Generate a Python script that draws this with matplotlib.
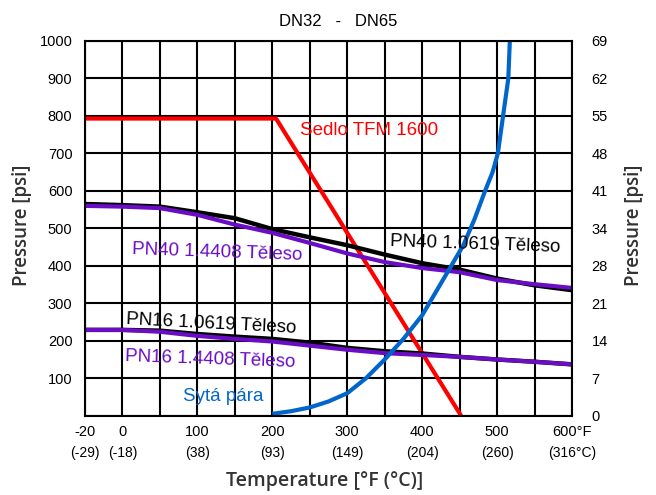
import matplotlib
matplotlib.use('Agg')
import matplotlib.pyplot as plt
import numpy as np

# temperature in deg F, pressure in psi
t_seat = [-20, 205, 452]
p_seat = [793, 793, 0]

t_body = [-20, 0, 50, 100, 150, 200, 250, 300, 350, 400, 450, 500, 550, 600]
p_pn40_cs = [565, 562, 558, 543, 527, 498, 476, 455, 430, 407, 390, 366, 348, 335]
p_pn40_ss = [560, 558, 554, 536, 510, 488, 461, 433, 410, 394, 383, 362, 351, 341]
p_pn16_cs = [229, 229, 227, 218, 211, 205, 195, 181, 172, 166, 157, 150, 144, 137]
p_pn16_ss = [229, 229, 224, 213, 205, 198, 187, 176, 167, 162, 157, 150, 144, 137]

t_steam = [200, 225, 250, 275, 300, 325, 350, 375, 400, 430, 455, 470, 484, 494, 501, 508, 515, 517]
p_steam = [5, 12, 22, 38, 60, 100, 150, 205, 268, 370, 455, 525, 600, 650, 700, 800, 900, 1000]

x_ticks = [-20, 0, 100, 200, 300, 400, 500, 600]
x_labels = ['-20', '0', '100', '200', '300', '400', '500', '600°F']
c_labels = ['(-29)', '(-18)', '(38)', '(93)', '(149)', '(204)', '(260)', '(316°C)']
bar_labels = ['0', '7', '14', '21', '28', '34', '41', '48', '55', '62', '69']

RED = '#ff0000'
PURPLE = '#6a0dc4'
BLUE = '#0066cc'

plt.rcParams['font.family'] = ['Liberation Sans', 'DejaVu Sans']


def fwd(x):
    x = np.asarray(x, dtype=float)
    return np.where(x < 0, x * 2.5, x)


def inv(x):
    x = np.asarray(x, dtype=float)
    return np.where(x < 0, x / 2.5, x)


fig = plt.figure(figsize=(6.56, 4.95), dpi=100)
ax = fig.add_axes([85 / 656, 1 - 415.7 / 495, 487 / 656, 374.7 / 495])
ax.set_xscale('function', functions=(fwd, inv))
ax.set_xlim(-20, 600)
ax.set_ylim(0, 1000)

ax.set_xticks(x_ticks)
ax.set_xticklabels(x_labels, fontsize=10.5)
ax.set_xticks([50, 150, 250, 350, 450, 550], minor=True)
ax.set_yticks(np.arange(0, 1001, 100))
ax.set_yticklabels(['', '100', '200', '300', '400', '500', '600', '700', '800', '900', '1000'], fontsize=10.5)
ax.tick_params(which='both', length=0)
ax.tick_params(axis='x', pad=7)
ax.tick_params(axis='y', pad=9)
ax.grid(True, which='both', color='black', linewidth=1.5)
ax.set_axisbelow(True)
for s in ax.spines.values():
    s.set_linewidth(1.5)

for t, lab in zip(x_ticks, c_labels):
    ax.text(t, -0.100, lab, transform=ax.get_xaxis_transform(), ha='center', va='center', fontsize=10)

ax.plot(t_seat, p_seat, color=RED, linewidth=3, solid_capstyle='butt')
ax.plot(t_body, p_pn40_cs, color='black', linewidth=3.2)
ax.plot(t_body, p_pn40_ss, color=PURPLE, linewidth=3)
ax.plot(t_body, p_pn16_cs, color='black', linewidth=3.2)
ax.plot(t_body, p_pn16_ss, color=PURPLE, linewidth=3)
ax.plot(t_steam, p_steam, color=BLUE, linewidth=3, solid_capstyle='butt')

ax.text(237, 760, 'Sedlo TFM 1600', color=RED, fontsize=13.5, ha='left', va='center')
ax.text(357, 456, 'PN40 1.0619 Těleso', color='black', fontsize=13.5, ha='left', va='center', rotation=-2)
ax.text(13, 436, 'PN40 1.4408 Těleso', color=PURPLE, fontsize=13.5, ha='left', va='center', rotation=-2)
ax.text(4, 245, 'PN16 1.0619 Těleso', color='black', fontsize=13.5, ha='left', va='center', rotation=-3)
ax.text(3, 149, 'PN16 1.4408 Těleso', color=PURPLE, fontsize=13.5, ha='left', va='center', rotation=-2)
ax.text(81, 50, 'Sytá pára', color=BLUE, fontsize=13.5, ha='left', va='center')

ax2 = ax.twinx()
ax2.set_ylim(0, 1000)
ax2.set_yticks(np.arange(0, 1001, 100))
ax2.set_yticklabels(bar_labels, fontsize=10.5)
ax2.tick_params(length=0, pad=14)
for s in ax2.spines.values():
    s.set_visible(False)

lab_font = dict(family='Open Sans', fontsize=13.5, color='#333333', fontweight='semibold')
fig.text(22 / 656, 1 - 225 / 495, 'Pressure [psi]', rotation=90, ha='center', va='center', **lab_font)
fig.text(634 / 656, 1 - 225 / 495, 'Pressure [psi]', rotation=90, ha='center', va='center', **lab_font)
fig.text(325 / 656, 1 - 481 / 495, 'Temperature [°F (°C)]', ha='center', va='center',
         family='Open Sans', fontsize=14, color='#333333', fontweight='semibold')
fig.text(338 / 656, 1 - 22 / 495, 'DN32   -   DN65', ha='center', va='center', fontsize=12)

fig.savefig('out.png', dpi=100)
